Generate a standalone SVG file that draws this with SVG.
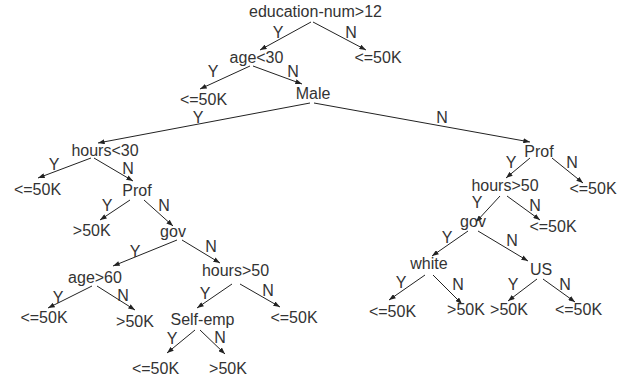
<svg xmlns="http://www.w3.org/2000/svg" width="638" height="381" viewBox="0 0 638 381">
<style>
text{font-family:"Liberation Sans",Arial,sans-serif;font-size:16px;fill:#333;text-anchor:middle}
line{stroke:#222;stroke-width:1;marker-end:url(#ah)}
</style>
<defs>
<marker id="ah" viewBox="0 0 8 6" refX="8" refY="3" markerWidth="7" markerHeight="5" orient="auto" markerUnits="userSpaceOnUse">
<path d="M0,0 L8,3 L0,6 z" fill="#222"/>
</marker>
</defs>
<rect width="638" height="381" fill="#fff"/>
<g id="connectors">
<line x1="311" y1="22" x2="260" y2="50"/>
<line x1="313" y1="22" x2="366" y2="50"/>
<line x1="250" y1="66" x2="200" y2="89"/>
<line x1="253" y1="66" x2="302" y2="84"/>
<line x1="310" y1="103" x2="98" y2="143"/>
<line x1="314" y1="103" x2="530" y2="142"/>
<line x1="91" y1="158" x2="38" y2="178"/>
<line x1="94" y1="158" x2="133" y2="181"/>
<line x1="130" y1="200" x2="100" y2="220"/>
<line x1="144" y1="200" x2="173" y2="226"/>
<line x1="177" y1="240" x2="113" y2="266"/>
<line x1="182" y1="240" x2="220" y2="263"/>
<line x1="92" y1="286" x2="48" y2="308"/>
<line x1="97" y1="286" x2="135" y2="310"/>
<line x1="232" y1="284" x2="197" y2="308"/>
<line x1="240" y1="284" x2="280" y2="307"/>
<line x1="195" y1="330" x2="167" y2="353"/>
<line x1="200" y1="330" x2="225" y2="354"/>
<line x1="530" y1="158" x2="506" y2="178"/>
<line x1="552" y1="158" x2="583" y2="183"/>
<line x1="500" y1="196" x2="476" y2="222"/>
<line x1="507" y1="196" x2="540" y2="220"/>
<line x1="468" y1="231" x2="432" y2="256"/>
<line x1="478" y1="231" x2="528" y2="261"/>
<line x1="425" y1="275" x2="389" y2="300"/>
<line x1="433" y1="275" x2="462" y2="304"/>
<line x1="537" y1="279" x2="508" y2="301"/>
<line x1="543" y1="279" x2="575" y2="302"/>
<g id="edge-labels">
<text x="278" y="38">Y</text><text x="351" y="38">N</text>
<text x="213" y="77">Y</text><text x="293" y="77">N</text>
<text x="198" y="123">Y</text><text x="442" y="123">N</text>
<text x="54" y="170">Y</text><text x="128" y="174">N</text>
<text x="107" y="211">Y</text><text x="164" y="211">N</text>
<text x="135" y="257">Y</text><text x="211" y="252">N</text>
<text x="58" y="303">Y</text><text x="123" y="301">N</text>
<text x="205" y="299">Y</text><text x="268" y="296">N</text>
<text x="172" y="344">Y</text><text x="220" y="343">N</text>
<text x="511" y="168">Y</text><text x="572" y="168">N</text>
<text x="477" y="208">Y</text><text x="535" y="211">N</text>
<text x="447" y="243">Y</text><text x="512" y="246">N</text>
<text x="401" y="288">Y</text><text x="458" y="290">N</text>
<text x="513" y="290">Y</text><text x="565" y="290">N</text>
</g>
</g>
<g id="n-root"><text x="315.5" y="17">education-num&gt;12</text></g>
<g id="n-age30"><text x="256.5" y="63">age&lt;30</text></g>
<g id="n-leaf1"><text x="378" y="63">&lt;=50K</text></g>
<g id="n-leaf2"><text x="203.5" y="105">&lt;=50K</text></g>
<g id="n-male"><text x="313" y="99">Male</text></g>
<g id="n-hours30"><text x="105" y="156">hours&lt;30</text></g>
<g id="n-leaf3"><text x="37.5" y="195">&lt;=50K</text></g>
<g id="n-prof1"><text x="137" y="196">Prof</text></g>
<g id="n-leaf4"><text x="91.7" y="236">&gt;50K</text></g>
<g id="n-gov1"><text x="173" y="237">gov</text></g>
<g id="n-age60"><text x="95" y="283">age&gt;60</text></g>
<g id="n-hours50a"><text x="235.5" y="276">hours&gt;50</text></g>
<g id="n-leaf5"><text x="44" y="323">&lt;=50K</text></g>
<g id="n-leaf6"><text x="135" y="326.5">&gt;50K</text></g>
<g id="n-selfemp"><text x="202.5" y="325">Self-emp</text></g>
<g id="n-leaf7"><text x="294" y="323">&lt;=50K</text></g>
<g id="n-leaf8"><text x="155.5" y="374">&lt;=50K</text></g>
<g id="n-leaf9"><text x="228" y="374">&gt;50K</text></g>
<g id="n-prof2"><text x="539" y="157">Prof</text></g>
<g id="n-hours50b"><text x="505" y="191">hours&gt;50</text></g>
<g id="n-leaf10"><text x="593" y="193.5">&lt;=50K</text></g>
<g id="n-gov2"><text x="473" y="227">gov</text></g>
<g id="n-leaf11"><text x="553" y="232">&lt;=50K</text></g>
<g id="n-white"><text x="429" y="268.5">white</text></g>
<g id="n-us"><text x="541" y="275">US</text></g>
<g id="n-leaf12"><text x="392.5" y="317">&lt;=50K</text></g>
<g id="n-leaf13"><text x="466" y="315">&gt;50K</text></g>
<g id="n-leaf14"><text x="509" y="315">&gt;50K</text></g>
<g id="n-leaf15"><text x="578.5" y="315">&lt;=50K</text></g>
</svg>
